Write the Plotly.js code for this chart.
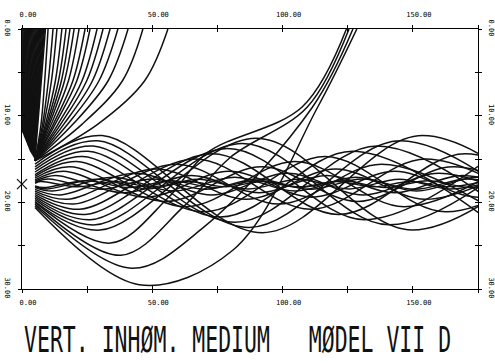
<!DOCTYPE html>
<html>
<head>
<meta charset="utf-8">
<script src="https://cdn.plot.ly/plotly-3.0.1.min.js"></script>
<style>html,body{margin:0;padding:0;background:#fff;}#chart{width:495px;height:363px;}</style>
</head>
<body>
<div id="chart"></div>
<script>
// ---- axis ticks ----
const xTickVals = [0, 25, 50, 75, 100, 125, 150, 175];
const xTickText = ['0.00', '', '50.00', '', '100.00', '', '150.00', ''];
const yTickVals = [0, 5, 10, 15, 20, 25, 30];
const yTickText = ['0.00', '', '10.00', '', '20.00', '', '30.00'];

// ---- source ----
const sourceX = [0];
const sourceY = [17.9];

// ---- steep rays reaching the surface (dense black fan) ----
const steepStartX = [0, 0.2, 0.4, 0.6, 0.8, 1.0, 1.2, 1.4, 1.6, 1.8, 2.0, 2.2, 2.4, 2.6, 2.8, 3.0, 3.2, 3.4, 3.6, 3.8, 4.0, 4.2, 4.4, 4.6, 4.8, 5.0];
const steepStartY = [11.7, 11.85, 12.0, 12.15, 12.3, 12.45, 12.6, 12.75, 12.9, 13.05, 13.2, 13.35, 13.5, 13.65, 13.8, 13.95, 14.1, 14.2, 14.3, 14.4, 14.5, 14.6, 14.7, 14.8, 14.9, 15.0];
const steepEndX   = [0, 0.36, 0.72, 1.08, 1.44, 1.8, 2.16, 2.52, 2.88, 3.24, 3.6, 3.96, 4.32, 4.68, 5.04, 5.4, 5.76, 6.12, 6.48, 6.84, 7.2, 7.56, 7.92, 8.28, 8.64, 9.0];

// ---- rays bending up to the surface ----
const surfX = [
  [5, 29, 47, 56], [5, 23, 38.5, 46.4], [5, 19.5, 33, 40.7], [5, 17.5, 29.5, 36.8],
  [5, 16, 27, 33.8], [5, 14.8, 24.8, 31.1], [5, 13.8, 23, 28.8], [5, 12.7, 21, 26.1],
  [5, 12, 19.5, 24.2], [5, 11.2, 17.8, 21.9], [5, 10.5, 16.3, 20.0], [5, 10, 15.1, 18.4],
  [5, 9.5, 14, 16.9], [5, 9, 12.8, 15.3], [5, 8.4, 11.3, 13.4], [5, 7.9, 10.1, 11.9],
  [5, 7.3, 8.7, 10.0]
];
const surfY = [15.2, 11, 6, 0];

// ---- deep rays that turn below and escape to the surface ----
const escX = [
  [5, 45, 81, 113.5, 128.5],
  [5, 42, 70, 111.5, 127],
  [5, 38, 62, 80, 109.5, 125.5],
  [5, 34, 56, 71, 107.5, 124.5]
];
const escY = [
  [20.6, 29.5, 25.5, 9, 0],
  [20.4, 27.6, 22.8, 9, 0],
  [20.2, 26.1, 20.5, 14.8, 9, 0],
  [20.0, 24.7, 19.5, 14.3, 9, 0]
];

// ---- trapped rays, launched upward (start, then turning points) ----
const trapUpX = [
  [5, 30.75, 92.25, 153.75, 215.25],
  [5, 29.05, 87.15, 145.25, 203.35],
  [5, 27.25, 81.75, 136.25, 190.75],
  [5, 25.35, 76.05, 126.75, 177.45],
  [5, 23.25, 69.75, 116.25, 162.75, 209.25],
  [5, 20.95, 62.85, 104.75, 146.65, 188.55],
  [5, 18.4, 55.2, 92, 128.8, 165.6, 202.4],
  [5, 15.9, 47.7, 79.5, 111.3, 143.1, 174.9, 206.7],
  [5, 13, 39, 65, 91, 117, 143, 169, 195],
  [5, 10.05, 30.15, 50.25, 70.35, 90.45, 110.55, 130.65, 150.75, 170.85, 190.95],
  [5, 7.1, 21.3, 35.5, 49.7, 63.9, 78.1, 92.3, 106.5, 120.7, 134.9, 149.1, 163.3, 177.5]
];
const trapUpY = [
  [15.6, 12.3, 23.5, 12.3, 23.5],
  [15.9, 12.9, 22.9, 12.9, 22.9],
  [16.2, 13.5, 22.3, 13.5, 22.3],
  [16.5, 14.1, 21.7, 14.1, 21.7],
  [16.8, 14.7, 21.1, 14.7, 21.1, 14.7],
  [17.0, 15.3, 20.5, 15.3, 20.5, 15.3],
  [17.2, 15.9, 19.9, 15.9, 19.9, 15.9, 19.9],
  [17.4, 16.4, 19.4, 16.4, 19.4, 16.4, 19.4, 16.4],
  [17.55, 16.9, 18.9, 16.9, 18.9, 16.9, 18.9, 16.9, 18.9],
  [17.7, 17.3, 18.5, 17.3, 18.5, 17.3, 18.5, 17.3, 18.5, 17.3, 18.5],
  [17.8, 17.6, 18.2, 17.6, 18.2, 17.6, 18.2, 17.6, 18.2, 17.6, 18.2, 17.6, 18.2, 17.6]
];

// ---- trapped rays, launched downward ----
const trapDownX = [
  [5, 29.95, 89.85, 149.75, 209.65],
  [5, 28.2, 84.6, 141, 197.4],
  [5, 26.3, 78.9, 131.5, 184.1],
  [5, 24.3, 72.9, 121.5, 170.1, 218.7],
  [5, 22.15, 66.45, 110.75, 155.05, 199.35],
  [5, 19.7, 59.1, 98.5, 137.9, 177.3],
  [5, 17.2, 51.6, 86, 120.4, 154.8, 189.2],
  [5, 14.55, 43.65, 72.75, 101.85, 130.95, 160.05, 189.15],
  [5, 11.65, 34.95, 58.25, 81.55, 104.85, 128.15, 151.45, 174.75, 198.05],
  [5, 9.65, 28.95, 48.25, 67.55, 86.85, 106.15, 125.45, 144.75, 164.05, 183.35],
  [5, 8.2, 24.6, 41, 57.4, 73.8, 90.2, 106.6, 123, 139.4, 155.8, 172.2, 188.6]
];
const trapDownY = [
  [19.9, 23.2, 12.6, 23.2, 12.6],
  [19.7, 22.6, 13.2, 22.6, 13.2],
  [19.5, 22.0, 13.8, 22.0, 13.8],
  [19.3, 21.4, 14.4, 21.4, 14.4, 21.4],
  [19.1, 20.8, 15.0, 20.8, 15.0, 20.8],
  [18.9, 20.2, 15.6, 20.2, 15.6, 20.2],
  [18.7, 19.65, 16.15, 19.65, 16.15, 19.65, 16.15],
  [18.5, 19.15, 16.65, 19.15, 16.65, 19.15, 16.65, 19.15],
  [18.3, 18.7, 17.1, 18.7, 17.1, 18.7, 17.1, 18.7, 17.1, 18.7],
  [18.2, 18.45, 17.35, 18.45, 17.35, 18.45, 17.35, 18.45, 17.35, 18.45, 17.35],
  [18.1, 18.3, 17.5, 18.3, 17.5, 18.3, 17.5, 18.3, 17.5, 18.3, 17.5, 18.3, 17.5]
];

const titleText = 'VERT. INHØM. MEDIUM   MØDEL VII D';

// ---- build traces ----
const INK = '#111';
const traces = [];
function ray(x, y, w, shape, xa, ya) {
  traces.push({
    type: 'scatter', mode: 'lines', x: x, y: y,
    xaxis: xa || 'x', yaxis: ya || 'y',
    line: {color: INK, width: w, shape: shape || 'spline', smoothing: 1},
    hoverinfo: 'skip', showlegend: false
  });
}
for (let i = 0; i < steepStartX.length; i++) {
  ray([steepStartX[i], steepEndX[i]], [steepStartY[i], 0], 1.5, 'linear');
}
for (let i = 0; i < surfX.length; i++) ray(surfX[i], surfY, 1.5);
// escaping rays drawn against the right-hand (mirrored) depth axis
for (let i = 0; i < escX.length; i++) ray(escX[i], escY[i], 1.5, 'spline', 'x', 'y2');
for (let i = 0; i < trapUpX.length; i++) ray(trapUpX[i], trapUpY[i], 1.5);
for (let i = 0; i < trapDownX.length; i++) ray(trapDownX[i], trapDownY[i], 1.5);
// source marker drawn against the top (mirrored) range axis
traces.push({
  type: 'scatter', mode: 'markers', x: sourceX, y: sourceY, xaxis: 'x2', yaxis: 'y',
  cliponaxis: false,
  marker: {symbol: 'x-thin', size: 10, line: {color: INK, width: 1.3}},
  hoverinfo: 'skip', showlegend: false
});

const tickFont = {family: 'DejaVu Sans Mono', size: 7, color: '#000'};
const common = {
  showgrid: false, zeroline: false, showline: true, linecolor: '#000', linewidth: 1.3,
  tickcolor: '#000', tickwidth: 1, ticklen: 3, tickfont: tickFont, mirror: 'ticks'
};
const layout = {
  width: 495, height: 363,
  margin: {l: 22, r: 17, t: 29, b: 74},
  paper_bgcolor: '#fff', plot_bgcolor: '#fff',
  showlegend: false,
  xaxis: Object.assign({}, common, {
    range: [0, 175], tickmode: 'array', tickvals: xTickVals, ticktext: xTickText,
    ticks: 'outside', ticklabelstandoff: 3, ticklabelshift: 6
  }),
  xaxis2: Object.assign({}, common, {
    range: [0, 175], overlaying: 'x', side: 'top', anchor: 'y',
    tickmode: 'array', tickvals: xTickVals, ticktext: xTickText,
    ticks: 'inside', ticklabelstandoff: 8, ticklabelshift: 6
  }),
  yaxis: Object.assign({}, common, {
    range: [30, 0], tickmode: 'array', tickvals: yTickVals, ticktext: yTickText,
    ticks: 'outside', tickangle: 90, ticklabelstandoff: 4
  }),
  yaxis2: Object.assign({}, common, {
    range: [30, 0], overlaying: 'y', side: 'right', anchor: 'x',
    tickmode: 'array', tickvals: yTickVals, ticktext: yTickText,
    ticks: 'inside', tickangle: 90, ticklabelstandoff: 7
  }),
  annotations: [{
    text: titleText, xref: 'paper', yref: 'paper', x: 0, y: -0.195,
    xanchor: 'left', yanchor: 'middle', showarrow: false,
    font: {family: 'DejaVu Sans Mono', size: 21.5, color: '#111'}
  }]
};

Plotly.newPlot('chart', traces, layout, {staticPlot: true, displayModeBar: false}).then(function () {
  const t = document.querySelector('.annotation-text-g text');
  if (t) {
    const bb = t.getBBox();
    const cy = bb.y + bb.height / 2;
    const s = 1.68;
    t.setAttribute('transform', 'matrix(1,0,0,' + s + ',0,' + (cy * (1 - s)) + ')');
  }
});
</script>
</body>
</html>
